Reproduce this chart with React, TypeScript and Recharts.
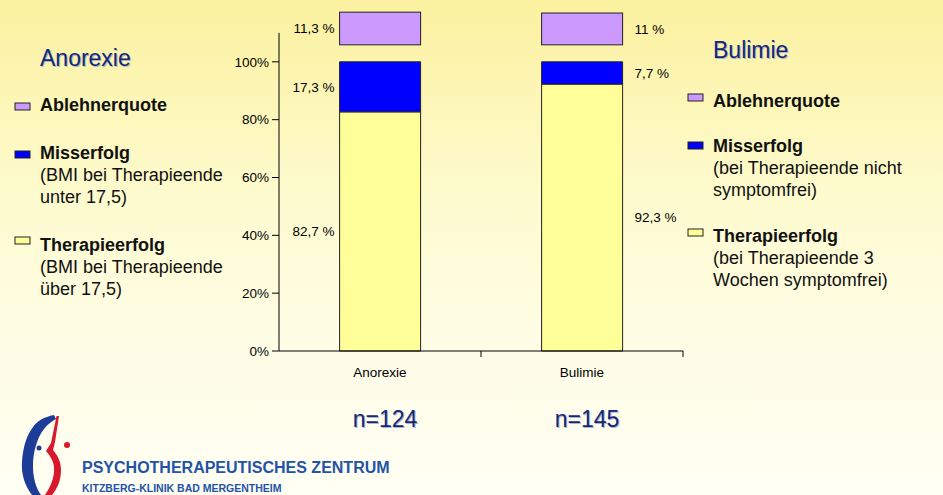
import { BarChart, Bar, XAxis, YAxis, ReferenceLine, LabelList } from 'recharts';

const categories = ['Anorexie', 'Bulimie'];
const therapieerfolg = [82.7, 92.3];
const misserfolg = [17.3, 7.7];
const ablehnerquote = [11.3, 11];
const sampleSizes = [124, 145];
const yTicks = [0, 20, 40, 60, 80, 100];

const data = categories.map((name, i) => ({
  name,
  erfolg: therapieerfolg[i],
  misserfolg: misserfolg[i],
  ablehner: ablehnerquote[i],
  n: sampleSizes[i],
}));

const FONT = '"Liberation Sans", Arial, sans-serif';
const SMALL = 13.5;
const NAVY = '#13287a';
const YELLOW = '#ffff99';
const BLUE = '#0000ff';
const LILAC = '#cc99ff';
const EDGE = '#222';
// Ablehnerquote sits a bit above the 100% stack
const GAP = 17;

const fmt = (v: number) => String(v).replace('.', ',') + ' %';

const RefusalShape = (p: any) => (
  <rect x={p.x} y={p.y - GAP} width={p.width} height={p.height} fill={LILAC} stroke={EDGE} strokeWidth={1} />
);

// Anorexie labels left of the bar, Bulimie labels right of it
const sideLabel = (shift: number) => (p: any) => {
  const vb = p.viewBox ?? p;
  const x = vb.x ?? p.x;
  const y = vb.y ?? p.y;
  const w = vb.width ?? p.width;
  const h = vb.height ?? p.height;
  const left = (p.index ?? 0) === 0;
  return (
    <text
      x={left ? x - 5 : x + w + 12}
      y={y + h / 2 - shift}
      dy="0.35em"
      textAnchor={left ? 'end' : 'start'}
      fontSize={SMALL}
      fontFamily={FONT}
      fill="#000"
    >
      {fmt(p.value)}
    </text>
  );
};

const CategoryTick = (p: any) => {
  const { x, y, payload, index } = p;
  const half = payload?.offset ?? 0;
  const n = sampleSizes[index ?? 0];
  return (
    <g>
      <line x1={x + half} x2={x + half} y1={y - 16} y2={y - 10} stroke="#000" />
      <text x={x} y={y} dy={10} textAnchor="middle" fontSize={SMALL} fontFamily={FONT} fill="#000">
        {payload.value}
      </text>
      <text x={x + 6} y={y + 61} textAnchor="middle" fontSize={23} fontFamily={FONT} fill="#b0b4c4">
        n={n}
      </text>
      <text x={x + 5} y={y + 60} textAnchor="middle" fontSize={23} fontFamily={FONT} fill={NAVY}>
        n={n}
      </text>
    </g>
  );
};

type Line = { t: string; y: number; bold?: boolean };
type Item = { color: string; sy: number; lines: Line[] };

const leftItems: Item[] = [
  { color: LILAC, sy: 103, lines: [{ t: 'Ablehnerquote', y: 111, bold: true }] },
  {
    color: BLUE,
    sy: 151,
    lines: [
      { t: 'Misserfolg', y: 159, bold: true },
      { t: '(BMI bei Therapieende', y: 181 },
      { t: 'unter 17,5)', y: 203 },
    ],
  },
  {
    color: YELLOW,
    sy: 237,
    lines: [
      { t: 'Therapieerfolg', y: 251, bold: true },
      { t: '(BMI bei Therapieende', y: 273 },
      { t: 'über 17,5)', y: 295 },
    ],
  },
];

const rightItems: Item[] = [
  { color: LILAC, sy: 94, lines: [{ t: 'Ablehnerquote', y: 107, bold: true }] },
  {
    color: BLUE,
    sy: 142,
    lines: [
      { t: 'Misserfolg', y: 152, bold: true },
      { t: '(bei Therapieende nicht', y: 174 },
      { t: 'symptomfrei)', y: 196 },
    ],
  },
  {
    color: YELLOW,
    sy: 229,
    lines: [
      { t: 'Therapieerfolg', y: 242, bold: true },
      { t: '(bei Therapieende 3', y: 264 },
      { t: 'Wochen symptomfrei)', y: 286 },
    ],
  },
];

function Legend({ x, sx, title, titleY, items }: { x: number; sx: number; title: string; titleY: number; items: Item[] }) {
  return (
    <g fontFamily={FONT}>
      <text x={x + 1} y={titleY + 1} fontSize={23} fill="#b0b4c4">{title}</text>
      <text x={x} y={titleY} fontSize={23} fill={NAVY}>{title}</text>
      {items.map((it) => (
        <g key={it.lines[0].t}>
          <rect x={sx} y={it.sy} width={15} height={7} fill={it.color} stroke={EDGE} strokeWidth={1} />
          {it.lines.map((l) => (
            <text key={l.t} x={x} y={l.y} fontSize={18} fontWeight={l.bold ? 'bold' : 'normal'} fill="#111">
              {l.t}
            </text>
          ))}
        </g>
      ))}
    </g>
  );
}

export default function App() {
  return (
    <div
      style={{
        position: 'absolute',
        top: 0,
        left: 0,
        width: 943,
        height: 495,
        overflow: 'hidden',
        background: 'linear-gradient(180deg, #fbf19f 0%, #fefbcf 40%, #fffde6 70%, #fffff4 100%)',
      }}
    >
      <BarChart
        width={943}
        height={495}
        data={data}
        margin={{ top: 4, right: 260, bottom: 114, left: 0 }}
        barCategoryGap="30%"
      >
        <XAxis
          dataKey="name"
          height={30}
          tickSize={6}
          tickMargin={10}
          tickLine={{ stroke: 'none' }}
          axisLine={{ stroke: '#000' }}
          tick={<CategoryTick />}
          interval={0}
        />
        <XAxis xAxisId="num" type="number" domain={[0, 2]} hide allowDataOverflow />
        <YAxis
          width={279}
          domain={[0, 120]}
          ticks={yTicks}
          tickFormatter={(v) => v + '%'}
          axisLine={false}
          tickLine={{ stroke: '#000' }}
          tickSize={7}
          tickMargin={3}
          tick={{ fontSize: SMALL, fontFamily: FONT, fill: '#000' }}
        />
        <ReferenceLine
          xAxisId="num"
          segment={[{ x: 0, y: 0 }, { x: 0, y: 110 }]}
          stroke="#000"
          strokeWidth={1}
          ifOverflow="visible"
        />
        <Bar dataKey="erfolg" stackId="a" fill={YELLOW} stroke={EDGE} strokeWidth={1} isAnimationActive={false}>
          <LabelList dataKey="erfolg" content={sideLabel(0)} />
        </Bar>
        <Bar dataKey="misserfolg" stackId="a" fill={BLUE} stroke={EDGE} strokeWidth={1} isAnimationActive={false}>
          <LabelList dataKey="misserfolg" content={sideLabel(0)} />
        </Bar>
        <Bar dataKey="ablehner" stackId="a" fill={LILAC} shape={RefusalShape} isAnimationActive={false}>
          <LabelList dataKey="ablehner" content={sideLabel(GAP)} />
        </Bar>
      </BarChart>

      <svg
        width={943}
        height={495}
        style={{ position: 'absolute', top: 0, left: 0, pointerEvents: 'none' }}
      >
        <Legend x={40} sx={15} title="Anorexie" titleY={66} items={leftItems} />
        <Legend x={713} sx={688} title="Bulimie" titleY={58} items={rightItems} />

        {/* Logo */}
        <path
          d="M 54 415 C 44 417, 37 421, 33 427 C 27 435, 23 446, 22 462 C 21 474, 25 486, 32 495 L 41 495 C 36 488, 33 478, 33 466 C 33 452, 37 438, 44 429 C 48 424, 52 421, 56 419 Z"
          fill="#1c3c98"
        />
        <circle cx={39} cy={448} r={2.5} fill="#1c3c98" />
        <path
          d="M 59 416 L 56.5 416 L 51 443 L 46 451 C 51 457, 55 463, 54 472 C 53 482, 49 489, 45 495 L 52 495 C 57 489, 61 481, 61 470 C 61 462, 58 456, 53 450 L 55 442 Z"
          fill="#d8182c"
        />
        <circle cx={67} cy={445} r={3} fill="#d8182c" />
        <text x={82} y={473} fontFamily={FONT} fontSize={16} fontWeight="bold" fill="#2352a8">
          PSYCHOTHERAPEUTISCHES ZENTRUM
        </text>
        <text x={82} y={492} fontFamily={FONT} fontSize={10.5} fontWeight="bold" fill="#2352a8">
          KITZBERG-KLINIK BAD MERGENTHEIM
        </text>
      </svg>
    </div>
  );
}
